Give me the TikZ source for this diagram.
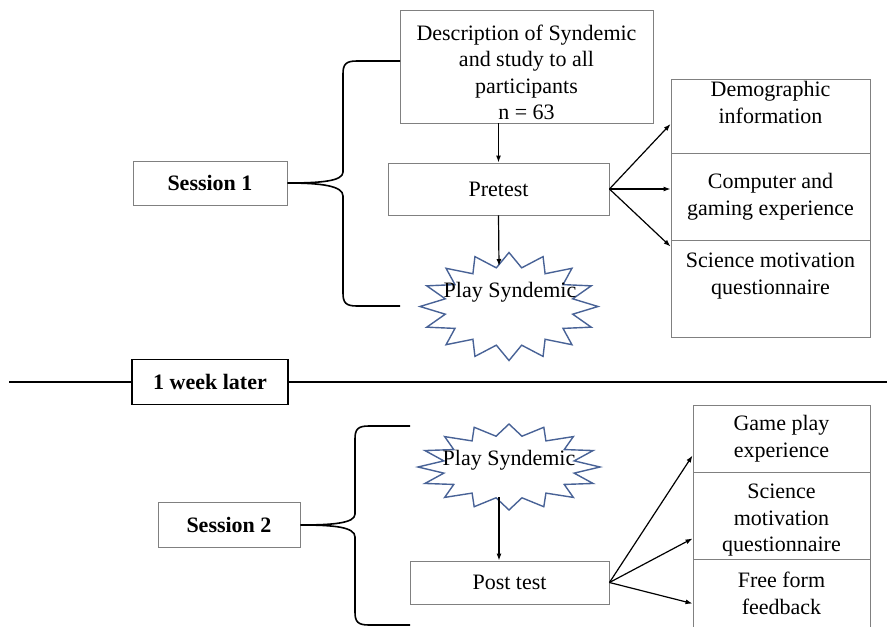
\documentclass[tikz,border=0pt]{standalone}
\usepackage{fontspec}
\setmainfont{Liberation Serif}
\usetikzlibrary{calc,arrows.meta}
\definecolor{burstblue}{RGB}{72,98,150}
\definecolor{boxgray}{RGB}{128,128,128}
\newcommand{\diagfont}{\fontsize{22}{26.5}\selectfont}
\tikzset{
  box/.style={draw=boxgray, line width=0.9pt, align=center, inner sep=0pt},
  plain/.style={align=center, inner sep=0pt},
  sessbox/.style={box, font=\diagfont\bfseries},
  weekbox/.style={draw=black, line width=1.8pt, inner sep=0pt, font=\diagfont\bfseries},
  arr/.style={-{Latex[length=7pt,width=5pt]}, line width=1.2pt},
  brace/.style={line width=1.6pt},
  sepline/.style={line width=2.4pt},
  pics/burst/.style n args={2}{code={
    \draw[draw=burstblue, line width=1.4pt, line join=miter] (0:#1 and #2)
      \foreach \k [evaluate=\k as \r using {mod(\k,2)==0?1:0.73}] in {1,...,31} {
        -- (\k*11.25:{\r*#1} and {\r*#2})
      } -- cycle;
  }}
}

\begin{document}
\begin{tikzpicture}[x=1pt,y=-1pt,font=\diagfont]
\useasboundingbox (0,0) rectangle (887,627);

% session 1
\node[box, minimum width=253, minimum height=113] (desc) at (526.5,66.5) {};
\node[plain] (desctxt) at (526.5,72.5) {Description of Syndemic\\and study to all\\participants\\n = 63};
\node[box, minimum width=221, minimum height=52] (pre) at (498.5,189) {Pretest};
\pic at (509,306.5) {burst={89}{54}};
\node[plain] (play1) at (510,292) {Play Syndemic};
\coordinate (b1top) at (499,266);

\node[box, minimum width=199, minimum height=74] (demo) at (770.5,116) {};
\node[plain] (demotxt) at (770.5,102.5) {Demographic\\information};
\node[box, minimum width=199, minimum height=87] (comp) at (770.5,196.5) {Computer and\\gaming experience};
\node[box, minimum width=199, minimum height=97] (smq1) at (770.5,288.5) {};
\node[plain] (smq1txt) at (770.5,276) {Science motivation\\questionnaire};

\draw[arr] (pre |- desc.south) -- (pre.north);
\draw[arr] (pre.south) -- (b1top);
\draw[arr] (pre.east) -- ($(demo.west)+(0,8)$);
\draw[arr] (pre.east) -- (pre.east -| comp.west);
\draw[arr] (pre.east) -- ($(smq1.north west)+(0,7)$);

\node[sessbox, minimum width=154, minimum height=44] (s1) at (210,183) {Session 1};
\coordinate (s1top) at (400,61);
\coordinate (s1bot) at (400,306);
\draw[brace] (s1top) -- (357,61) .. controls (346,61) and (343,64) .. (343,74) -- (343,172)
  .. controls (343,181) and (322,183) .. (s1.east) .. controls (322,183) and (343,186) .. (343,196)
  -- (343,293) .. controls (343,303) and (346,306) .. (357,306) -- (s1bot);

% week
\node[weekbox, minimum width=156, minimum height=45] (week) at (210,382) {1 week later};
\coordinate (sepl) at (9,382);
\coordinate (sepr) at (887,382);
\draw[sepline] (sepl) -- (week) -- (sepr);

% session 2
\pic at (509,467) {burst={91}{43}};
\node[plain] (play2) at (509,460) {Play Syndemic};
\coordinate (b2bot) at (499,497);
\node[box, minimum width=199, minimum height=43] (post) at (509.5,582.5) {Post test};
\draw[arr] (b2bot) -- (b2bot |- post.north);

\node[box, minimum width=177, minimum height=67] (game) at (781.5,438.5) {Game play\\experience};
\node[box, minimum width=177, minimum height=87] (smq2) at (781.5,515.5) {};
\node[plain] (smq2txt) at (781.5,520.5) {Science\\motivation\\questionnaire};
\node[box, minimum width=177, minimum height=69] (free) at (781.5,593.5) {Free form\\feedback};

\draw[arr] (post.east) -- ($(game.south west)+(0,-17)$);
\draw[arr] (post.east) -- ($(smq2.south west)+(0,-21)$);
\draw[arr] (post.east) -- ($(free.north west)+(0,45)$);

\node[sessbox, minimum width=142, minimum height=45] (s2) at (229,525) {Session 2};
\coordinate (s2top) at (410,426);
\coordinate (s2bot) at (410,625);
\draw[brace] (s2top) -- (369,426) .. controls (358,426) and (355,429) .. (355,439) -- (355,514)
  .. controls (355,523) and (334,525) .. (s2.east) .. controls (334,525) and (355,527) .. (355,537)
  -- (355,612) .. controls (355,622) and (358,625) .. (369,625) -- (s2bot);
\end{tikzpicture}
\end{document}
